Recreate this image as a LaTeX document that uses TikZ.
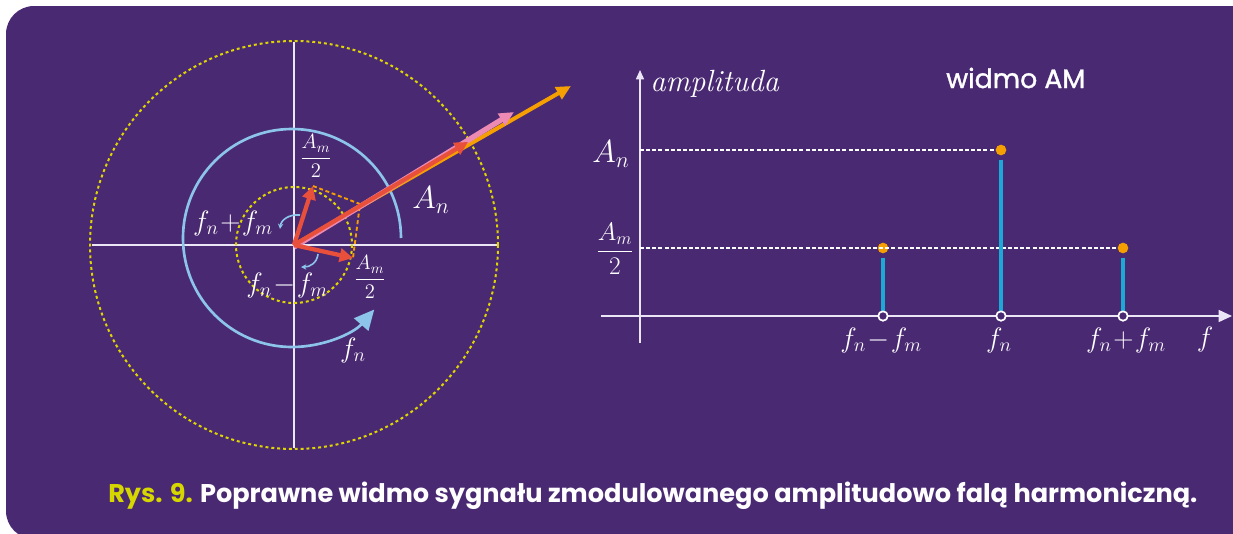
\RequirePackage{fix-cm}
\documentclass[tikz,border=0pt]{standalone}
\usepackage{fontspec}
\newfontfamily\popfont{Poppins}
\newfontfamily\popmed{Poppins}[FakeBold=1.3]
\usetikzlibrary{arrows.meta}
\definecolor{bgp}{RGB}{74,41,115}
\definecolor{ylw}{RGB}{222,214,0}
\definecolor{lblue}{RGB}{140,196,234}
\definecolor{redA}{RGB}{232,80,60}
\definecolor{pinkA}{RGB}{236,138,180}
\definecolor{orgA}{RGB}{245,160,0}
\definecolor{stemc}{RGB}{27,170,214}
\definecolor{capy}{RGB}{215,215,0}
\definecolor{axc}{RGB}{235,230,245}
\newcommand{\halfAm}{\displaystyle\frac{A_m}{2}}
\begin{document}
\begin{tikzpicture}[x=0.75pt,y=-0.75pt,
  lbl/.style={text=white,inner sep=0pt,font=\fontsize{21}{25}\selectfont},
  biglbl/.style={text=white,inner sep=0pt,font=\fontsize{24}{28}\selectfont},
  frc/.style={text=white,inner sep=0pt,font=\fontsize{15.5}{18}\selectfont},
  ydot/.style={draw=ylw,line width=1.5pt,dash pattern=on 2.2pt off 2.2pt},
  axw/.style={draw=axc,line width=1.1pt},
  blu/.style={draw=lblue,line width=2pt},
  blut/.style={draw=lblue,line width=1.2pt,-{Stealth[length=4pt,width=4pt]}},
  wdash/.style={draw=white,line width=1.2pt,dash pattern=on 3pt off 1.6pt},
  stemline/.style={draw=stemc,line width=3pt},
  odot/.style={circle,fill=orgA,inner sep=0pt,minimum size=8pt},
  wdot/.style={circle,draw=white,fill=bgp,line width=1.2pt,inner sep=0pt,minimum size=7pt},
  redarr/.style={draw=redA,line width=3.2pt,-{Triangle[length=10pt,width=10pt]}}]
\useasboundingbox (0,0) rectangle (1233,533);
\fill[white] (0,0) rectangle (1233,533);
\fill[bgp,rounded corners=21pt] (6,6) rectangle (1280,539);

% ---------- left phasor diagram ----------
\coordinate (C) at (294,245);
\coordinate (HL) at (92,245);  \coordinate (HR) at (498,245);
\coordinate (VT) at (294,42);  \coordinate (VB) at (294,448);
\draw[axw] (HL) -- (HR);
\draw[axw] (VT) -- (VB);
\draw[ydot] (C) circle[radius=204];
\draw[ydot] (C) circle[radius=58];

\coordinate (BS) at (401,238);
\draw[blu,-{Triangle[length=15pt,width=14pt]}] (BS) arc[start angle=0,end angle=-319,radius=109];

\coordinate (s1a) at (300,215); \coordinate (s1b) at (280,229);
\draw[blut] (s1a) .. controls (289,214) and (281,220) .. (s1b);
\coordinate (s2a) at (318,254); \coordinate (s2b) at (301,267);
\draw[blut] (s2a) .. controls (317,263) and (310,267) .. (s2b);

\coordinate (U) at (313,186);
\coordinate (D) at (353,258);
\coordinate (P) at (360,204);
\draw[orgA,line width=1.4pt,dash pattern=on 3pt off 2pt] (U) -- (P) -- (D);

\coordinate (TO) at (571,86);
\coordinate (TP) at (514,112);
\coordinate (TR) at (468,142);
\draw[orgA,line width=3pt,-{Triangle[length=11pt,width=10pt]}] (C) -- (TO);
\draw[pinkA,line width=4pt,-{Triangle[length=11pt,width=10pt]}] ([yshift=-1.5]C) -- (TP);
\draw[redarr] (C) -- (TR);
\draw[redarr] (C) -- (U);
\draw[redarr] (C) -- (D);

\node[frc] (l1) at (316,156) {$\halfAm$};
\node[frc] (l2) at (370,277) {$\halfAm$};
\node[lbl] (l3) at (233,223) {$f_n\!+\!f_m$};
\node[lbl] (l4) at (287,285) {$f_n\!-\!f_m$};
\node[lbl] (l5) at (353,350) {$f_n$};
\node[biglbl] (l6) at (431,200) {$A_n$};

% ---------- right spectrum ----------
\coordinate (YB) at (640,343); \coordinate (YT) at (640,70);
\coordinate (XL) at (601,316); \coordinate (XR) at (1232,316);
\draw[axw,-{Triangle[length=7pt,width=6pt]}] (YB) -- (YT);
\draw[axw,-{Triangle[length=10pt,width=9pt]}] (XL) -- (XR);

\coordinate (AnL) at (640,150);
\coordinate (AmL) at (640,248);
\node[odot] (d1) at (883,248) {};
\node[odot] (d2) at (1001,150) {};
\node[odot] (d3) at (1123,248) {};
\draw[wdash] (AnL) -- (d2.west);
\draw[wdash] (AmL) -- (d3.west);
\node[wdot] (b1) at (883,316) {};
\node[wdot] (b2) at (1001,316) {};
\node[wdot] (b3) at (1123,316) {};
\draw[stemline] ([yshift=-3]d1.south) -- (b1.north);
\draw[stemline] ([yshift=-3]d2.south) -- (b2.north);
\draw[stemline] ([yshift=-3]d3.south) -- (b3.north);
\node[wdot] at (b1) {};
\node[wdot] at (b2) {};
\node[wdot] at (b3) {};

\node[text=white,inner sep=0pt,anchor=base west,font=\fontsize{23}{27}\selectfont\itshape] (amp) at (650,91) {amplituda};
\node[text=white,inner sep=0pt,anchor=base west,font=\popmed\fontsize{20}{24}\selectfont] (wam) at (946,88) {widmo AM};
\node[biglbl] (rA) at (611,154) {$A_n$};
\node[text=white,inner sep=0pt,font=\fontsize{19}{22}\selectfont] (rF) at (615,249) {$\halfAm$};
\node[lbl] (x1) at (881,340) {$f_n\!-\!f_m$};
\node[lbl] (x2) at (999,340) {$f_n$};
\node[lbl] (x3) at (1126,340) {$f_n\!+\!f_m$};
\node[lbl] (x4) at (1205,339) {$f$};

% ---------- caption ----------
\node[inner sep=0pt,anchor=base west,font=\popfont\bfseries\fontsize{19.2}{22}\selectfont] (cap) at (108,502)
  {\textcolor{capy}{Rys. 9.} \textcolor{white}{Poprawne widmo sygnału zmodulowanego amplitudowo falą harmoniczną.}};
\end{tikzpicture}
\end{document}
